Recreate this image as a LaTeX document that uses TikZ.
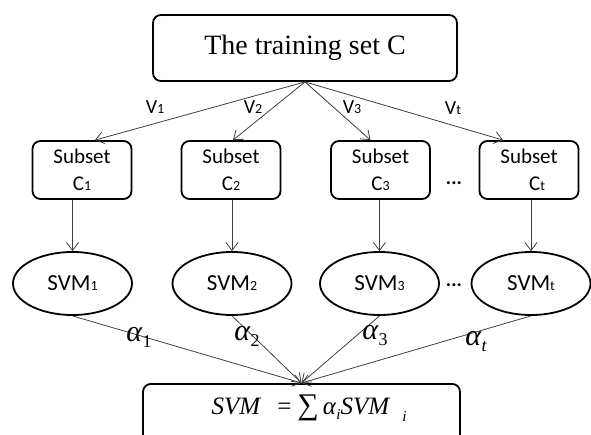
\documentclass[tikz,border=0pt]{standalone}
\usepackage{fontspec}
\setmainfont{Liberation Serif}
\newfontfamily\calib{Carlito}
\usetikzlibrary{arrows.meta,calc,shapes.geometric}
\newcommand{\smsub}[1]{{\fontsize{14}{14}\selectfont #1}}
\newcommand{\asub}[1]{\raisebox{-6pt}{\fontsize{18}{18}\selectfont #1}}
\begin{document}
\begin{tikzpicture}[x=1pt,y=-1pt,
  box/.style={draw,line width=1.8pt,rounded corners=8pt,inner sep=0pt},
  subbox/.style={box,minimum width=99pt,minimum height=58pt,align=center,
    font=\calib\fontsize{21}{27}\selectfont},
  svm/.style={draw,ellipse,line width=1.8pt,minimum width=119pt,minimum height=63pt,
    inner sep=0pt,font=\calib\fontsize{23}{23}\selectfont},
  arr/.style={-{Straight Barb[length=8pt,width=12pt]},line width=0.8pt,draw=black!75},
  lab/.style={inner sep=0pt,font=\calib\fontsize{20}{20}\selectfont},
  alab/.style={inner sep=0pt,font=\fontsize{30}{30}\selectfont},
  dots/.style={inner sep=0pt,font=\calib\bfseries\fontsize{20}{20}\selectfont}]
\useasboundingbox (0,0) rectangle (591,435);
\clip (0,0) rectangle (591,435);
% nodes
\node[box,minimum width=304pt,minimum height=66pt,font=\fontsize{28}{28}\selectfont]
  (top) at (305,48) {The training set C};
\node[subbox] (s1) at (82,170) {Subset\\C\smsub{1}};
\node[subbox] (s2) at (231,170) {Subset\\C\smsub{2}};
\node[subbox] (s3) at (380.5,170) {Subset\\C\smsub{3}};
\node[subbox] (s4) at (529,170) {Subset\\\hspace*{16pt}C\smsub{t}};
\node[dots] (d1) at (454,183) {...};
\node[svm] (e1) at (72.5,283.5) {SVM\smsub{1}};
\node[svm] (e2) at (232,283.5) {SVM\smsub{2}};
\node[svm] (e3) at (379.5,283.5) {SVM\smsub{3}};
\node[svm] (e4) at (531,283.5) {SVM\smsub{t}};
\node[dots] (d2) at (454,285) {...};
\node[box,minimum width=317pt,minimum height=64pt,anchor=north] (bot) at (301.5,383) {};
\node[inner sep=0pt,font=\fontsize{25}{25}\selectfont] (formula) at (309,408)
  {\textit{SVM}\hspace{16pt}=\hspace{6pt}{\fontsize{30}{30}\selectfont ∑}\hspace{4pt}\textit{α}\raisebox{-5pt}{\fontsize{15}{15}\selectfont\itshape i}\textit{SVM}\hspace{12pt}\raisebox{-7pt}{\fontsize{15}{15}\selectfont\itshape i}};
% connectors
\draw[arr] (top.south) -- ($(s1.north)+(13,0)$);
\draw[arr] (top.south) -- ($(s2.north)+(2,0)$);
\draw[arr] (top.south) -- ($(s3.north)+(-10,0)$);
\draw[arr] (top.south) -- ($(s4.north)+(-26,0)$);
\node[lab] (v1) at (155,107) {V\smsub{1}};
\node[lab] (v2) at (253,107) {V\smsub{2}};
\node[lab] (v3) at (352,107) {V\smsub{3}};
\node[lab] (vt) at (453,108) {V\smsub{t}};
\draw[arr] (s1.south -| e1.north) -- (e1.north);
\draw[arr] (s2.south -| e2.north) -- (e2.north);
\draw[arr] (s3.south -| e3.north) -- (e3.north);
\draw[arr] (s4.south -| e4.north) -- (e4.north);
\draw[arr] (e1.south) -- (bot.north);
\draw[arr] (e2.south) -- (bot.north);
\draw[arr] (e3.south) -- (bot.north);
\draw[arr] (e4.south) -- (bot.north);
\node[alab] (a1) at (139,337) {\textit{α}\asub{1}};
\node[alab] (a2) at (247,336) {\textit{α}\asub{2}};
\node[alab] (a3) at (375,336) {\textit{α}\asub{3}};
\node[alab] (at) at (476,342) {\textit{α}\asub{\itshape t}};
\end{tikzpicture}
\end{document}
